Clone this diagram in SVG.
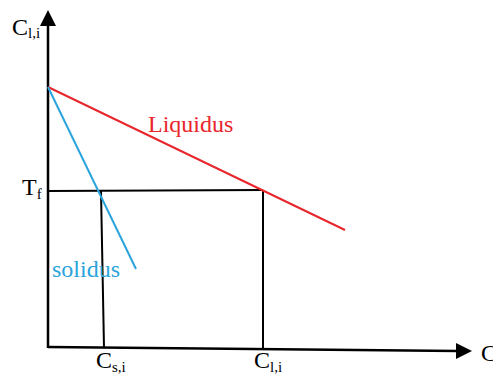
<svg xmlns="http://www.w3.org/2000/svg" width="493" height="374" viewBox="0 0 493 374">
<rect width="493" height="374" fill="#fff"/>
<g id="connectors" fill="none">
<line stroke="#000" stroke-width="2.5" x1="48" y1="348" x2="48" y2="24"/>
<polygon points="48,10 40,26 56,26" fill="#000"/>
<line stroke="#000" stroke-width="2.5" x1="48" y1="347" x2="458" y2="351"/>
<polygon points="472,351 456,343 456,359" fill="#000"/>
<line stroke="#000" stroke-width="2" x1="48" y1="191" x2="263" y2="190"/>
<line stroke="#000" stroke-width="2" x1="263" y1="190" x2="263" y2="349"/>
<line stroke="#000" stroke-width="2" x1="101" y1="191" x2="104" y2="348"/>
<line x1="48" y1="87" x2="345" y2="230" stroke="#e8262c" stroke-width="2"/>
<line x1="48" y1="87" x2="136" y2="269" stroke="#2aa4dc" stroke-width="2"/>
</g>
<g id="ylabel"><text font-family="Times New Roman, Liberation Serif, serif" font-size="24" x="12" y="35">C<tspan font-size="15" dy="3">l,i</tspan></text></g>
<g id="tf"><text font-family="Times New Roman, Liberation Serif, serif" font-size="24" x="22" y="195">T<tspan font-size="15" dy="4">f</tspan></text></g>
<g id="liquidus"><text font-family="Times New Roman, Liberation Serif, serif" font-size="24" x="148" y="132" fill="#e8262c">Liquidus</text></g>
<g id="solidus"><text font-family="Times New Roman, Liberation Serif, serif" font-size="24" x="52" y="277" fill="#2aa4dc">solidus</text></g>
<g id="csi"><text font-family="Times New Roman, Liberation Serif, serif" font-size="24" x="96" y="368">C<tspan font-size="15" dy="4">s,i</tspan></text></g>
<g id="cli"><text font-family="Times New Roman, Liberation Serif, serif" font-size="24" x="254" y="368">C<tspan font-size="15" dy="4">l,i</tspan></text></g>
<g id="xlabel"><text font-family="Times New Roman, Liberation Serif, serif" font-size="24" x="481" y="361">C</text></g>
</svg>
